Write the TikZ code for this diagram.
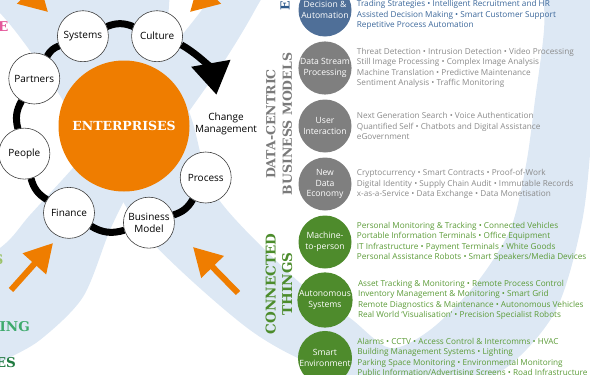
\documentclass[tikz,border=0pt]{standalone}
\usepackage{fontspec}
\setmainfont{Open Sans}
\newfontfamily\slab{DejaVu Serif}
\usetikzlibrary{positioning, arrows.meta}
\definecolor{band}{HTML}{DDE8F4}
\definecolor{orangeA}{HTML}{EF7D00}
\definecolor{decC}{HTML}{4F6F98}
\definecolor{decT}{HTML}{3B679A}
\definecolor{grayC}{HTML}{7F7F7F}
\definecolor{grayT}{HTML}{8A8A8A}
\definecolor{grayH}{HTML}{7A7A7A}
\definecolor{greenC}{HTML}{4E8B2C}
\definecolor{greenT}{HTML}{5B9B37}
\definecolor{greenH}{HTML}{4C8C2C}
\definecolor{blueH}{HTML}{2E5A8C}
\definecolor{pinkT}{HTML}{E4589B}
\definecolor{limeT}{HTML}{9CC36A}
\definecolor{tealT}{HTML}{3EAA6C}
\definecolor{dgreenT}{HTML}{1F7A3F}

\begin{document}
\begin{tikzpicture}[x=1pt, y=-1pt, node distance=58pt,
    stage/.style = {draw=black!75, fill=white, circle, line width=0.6pt, minimum size=51pt, inner sep=0pt, align=center, font=\fontsize{10}{11.5}\selectfont},
    usecase/.style = {circle, minimum size=53pt, inner sep=0pt, align=center, text=white, font=\fontsize{8.6}{10.5}\selectfont},
    uses/.style = {inner sep=0pt, align=left, font=\fontsize{8.2}{10.3}\selectfont},
    heading/.style = {rotate=90, align=center, inner sep=0pt, font=\slab\bfseries\fontsize{12.5}{16.5}\selectfont},
    edge/.style = {anchor=east, inner sep=0pt, font=\slab\bfseries\fontsize{13.5}{16}\selectfont},
    ring/.style = {line width=7pt},
    push/.style = {draw=orangeA, line width=6pt, -{Triangle[length=28pt,width=30pt]}}]
    \useasboundingbox (0,0) rectangle (590,375);
    \clip (0,0) rectangle (590,375);

    % background bands
    \fill[band] plot[smooth cycle, tension=0.5] coordinates {(-80,-60) (0,13) (50,80) (100,162) (150,240) (250,330) (330,372) (420,395) (500,372) (555,312) (582,222) (592,130) (598,40) (605,-60)
        (548,-60) (544,30) (535,100) (526,165) (510,230) (475,285) (430,330) (390,348) (350,318) (300,283) (217,197) (192,120) (168,50) (150,-60)};
    \fill[band] plot[smooth cycle, tension=0.5] coordinates {(290,-60) (255,10) (225,60) (190,110) (155,160) (133,185) (110,230) (83,297) (40,340) (0,363) (-60,400)
        (-80,300) (0,248) (30,215) (80,160) (130,100) (170,50) (212,-5) (235,-60)};

    \coordinate (tl0) at (0,-35);
    \coordinate (tl1) at (48,12);
    \coordinate (tr0) at (238,-35);
    \coordinate (tr1) at (190,12);
    \coordinate (bl0) at (11,290);
    \coordinate (bl1) at (53,243);
    \coordinate (br0) at (238,293);
    \coordinate (br1) at (193,247);
    \draw[push] (tl0) -- (tl1);
    \draw[push] (tr0) -- (tr1);
    \draw[push] (bl0) -- (bl1);
    \draw[push] (br0) -- (br1);

    \node[circle, fill=orangeA, minimum size=131pt, inner sep=0pt, text=white, font=\slab\bfseries\fontsize{12.5}{14}\selectfont] (ent) at (124,126) {ENTERPRISES};

    \coordinate (c) at (120,128);
    \node[stage] (cul) at ([shift={(-68:99)}]c) {Culture};
    \node[stage] (sys) at ([shift={(-112:99)}]c) {Systems};
    \node[stage] (par) at ([shift={(-150:99)}]c) {Partners};
    \node[stage] (peo) at ([shift={(165:99)}]c) {People};
    \node[stage] (fin) at ([shift={(121:99)}]c) {Finance};
    \node[stage] (bm) at ([shift={(73:99)}]c) {Business\\Model};
    \node[stage] (pro) at ([shift={(30:99)}]c) {Process};
    \coordinate (cmtip) at ([shift={(-19:102)}]c);
    \node[font=\fontsize{10}{11.5}\selectfont, align=center] (chg) at (226,124) {Change\\Management};

    \draw[ring] (cul) to[bend right=22] (sys);
    \draw[ring] (sys) to[bend right=19] (par);
    \draw[ring] (par) to[bend right=22] (peo);
    \draw[ring] (peo) to[bend right=22] (fin);
    \draw[ring] (fin) to[bend right=24] (bm);
    \draw[ring] (bm) to[bend right=21] (pro);
    \draw[ring, -{Triangle[length=32pt,width=38pt]}] (cul) to[bend left=25] (cmtip);

    \node[usecase, fill=decC] (dec) at (325,10) {Decision \&\\Automation};
    \node[usecase, fill=grayC] (dsp) [below of=dec] {Data Stream\\Processing};
    \node[usecase, fill=grayC] (ui) [below of=dsp] {User\\Interaction};
    \node[usecase, fill=grayC] (nde) [below of=ui] {New\\Data\\Economy};
    \node[usecase, fill=greenC] (m2p) [below of=nde] {Machine-\\to-person};
    \node[usecase, fill=greenC] (aut) [below of=m2p] {Autonomous\\Systems};
    \node[usecase, fill=greenC] (env) [below of=aut] {Smart\\Environment};

    \node[uses, text=decT] (dectx) [right=5pt of dec, yshift=-5pt] {Trading Strategies • Intelligent Recruitment and HR\\Assisted Decision Making • Smart Customer Support\\Repetitive Process Automation};
    \node[uses, text=grayT] (dsptx) [right=5pt of dsp] {Threat Detection • Intrusion Detection • Video Processing\\Still Image Processing • Complex Image Analysis\\Machine Translation • Predictive Maintenance\\Sentiment Analysis • Traffic Monitoring};
    \node[uses, text=grayT] (uitx) [right=5pt of ui] {Next Generation Search • Voice Authentication\\Quantified Self • Chatbots and Digital Assistance\\eGovernment};
    \node[uses, text=grayT] (ndetx) [right=5pt of nde] {Cryptocurrency • Smart Contracts • Proof-of-Work\\Digital Identity • Supply Chain Audit • Immutable Records\\x-as-a-Service • Data Exchange • Data Monetisation};
    \node[uses, text=greenT] (m2ptx) [right=5pt of m2p] {Personal Monitoring \& Tracking • Connected Vehicles\\Portable Information Terminals • Office Equipment\\IT Infrastructure • Payment Terminals • White Goods\\Personal Assistance Robots • Smart Speakers/Media Devices};
    \node[uses, text=greenT] (auttx) [right=5pt of aut] {Asset Tracking \& Monitoring • Remote Process Control\\Inventory Management \& Monitoring • Smart Grid\\Remote Diagnostics \& Maintenance • Autonomous Vehicles\\Real World `Visualisation' • Precision Specialist Robots};
    \node[uses, text=greenT] (envtx) [right=5pt of env] {Alarms • CCTV • Access Control \& Intercomms • HVAC\\Building Management Systems • Lighting\\Parking Space Monitoring • Environmental Monitoring\\Public Information/Advertising Screens • Road Infrastructure};

    \node[heading, text=grayH] (dcbm) at (279,124) {DATA-CENTRIC\\BUSINESS MODELS};
    \node[heading, text=greenH, font=\slab\bfseries\fontsize{13.5}{16.5}\selectfont] (ct) at (279,284) {CONNECTED\\THINGS};
    \node[heading, text=blueH] (ei) at (285,6) {E};

    \node[edge, text=pinkT] (e1) at (8.5,27) {E};
    \node[edge, text=limeT] (e2) at (3.5,260) {S};
    \node[edge, text=tealT] (e3) at (30,327) {ING};
    \node[edge, text=dgreenT] (e4) at (16,363) {ES};
\end{tikzpicture}
\end{document}
